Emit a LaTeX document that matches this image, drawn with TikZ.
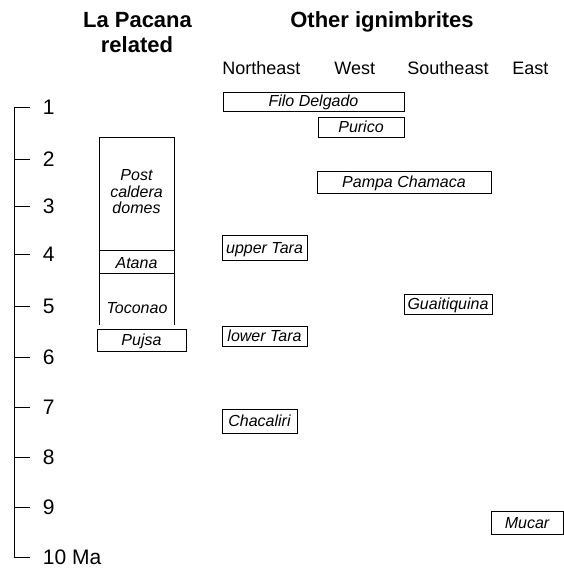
\documentclass[tikz,border=0pt]{standalone}
\usepackage{fontspec}
\setmainfont{Liberation Sans}
\begin{document}
\begin{tikzpicture}[x=1bp,y=-1bp,
  line width=0.9bp,
  unitbox/.style={draw, inner sep=0pt, font=\itshape\fontsize{16bp}{19bp}\selectfont,
    text height=11.5bp, text depth=0.5bp},
  unitlabel/.style={inner sep=0pt, anchor=base, font=\itshape\fontsize{16bp}{19bp}\selectfont},
  title/.style={inner sep=0pt, anchor=base, font=\bfseries\fontsize{22bp}{25bp}\selectfont},
  colhead/.style={inner sep=0pt, anchor=base west, font=\fontsize{18bp}{21bp}\selectfont},
  ticklabel/.style={inner sep=0pt, anchor=west, font=\fontsize{21bp}{24bp}\selectfont}]
\useasboundingbox (0,0) rectangle (564,568);

% headings
\node[title] (h1) at (137.5,28) {La Pacana};
\node[title] (h2) at (137,53) {related};
\node[title] (h3) at (382,28) {Other ignimbrites};
\node[colhead] (cne) at (222,75) {Northeast};
\node[colhead] (cw) at (334,75) {West};
\node[colhead] (cse) at (407,75) {Southeast};
\node[colhead] (ce) at (512,75) {East};

% time axis
\coordinate (atop) at (14,107);
\coordinate (abot) at (14,557);
\draw (atop) -- (abot);
\foreach \n/\y in {1/107,2/159,3/206,4/254,5/306,6/357,7/407,8/457,9/507}{
  \draw (14,\y) -- (30,\y);
  \node[ticklabel] (t\n) at (42.5,\y) {\n};
}
\draw (14,557) -- (30,557);
\node[ticklabel] (t10) at (42.5,557) {10 Ma};

% La Pacana column
\draw (99,325) -- (99,137) -- (174,137) -- (174,325);
\draw (99,250) -- (174,250);
\draw (99,273) -- (174,273);
\node[unitlabel] (pc1) at (136.5,180) {Post};
\node[unitlabel] (pc2) at (136.5,197) {caldera};
\node[unitlabel] (pc3) at (136.5,213) {domes};
\node[unitlabel] (atana) at (136.5,268) {Atana};
\node[unitlabel] (toconao) at (137,313) {Toconao};
\node[unitbox, minimum width=89bp, minimum height=22bp] (pujsa) at (141.5,340) {Pujsa};

% other ignimbrites
\node[unitbox, minimum width=181bp, minimum height=19bp] (filo) at (313.5,101.5) {Filo Delgado};
\node[unitbox, minimum width=86bp, minimum height=20bp] (purico) at (361,127) {Purico};
\node[unitbox, minimum width=174bp, minimum height=22bp] (pampa) at (404,182) {Pampa Chamaca};
\node[unitbox, minimum width=85bp, minimum height=25bp] (utara) at (264.5,247.5) {upper Tara};
\node[unitbox, minimum width=88bp, minimum height=20bp] (guai) at (448,304) {Guaitiquina};
\node[unitbox, minimum width=85bp, minimum height=20bp] (ltara) at (264.5,336) {lower Tara};
\node[unitbox, minimum width=75bp, minimum height=24bp] (chac) at (259.5,421) {Chacaliri};
\node[unitbox, minimum width=72bp, minimum height=23bp] (mucar) at (527,522.5) {Mucar};
\end{tikzpicture}
\end{document}
